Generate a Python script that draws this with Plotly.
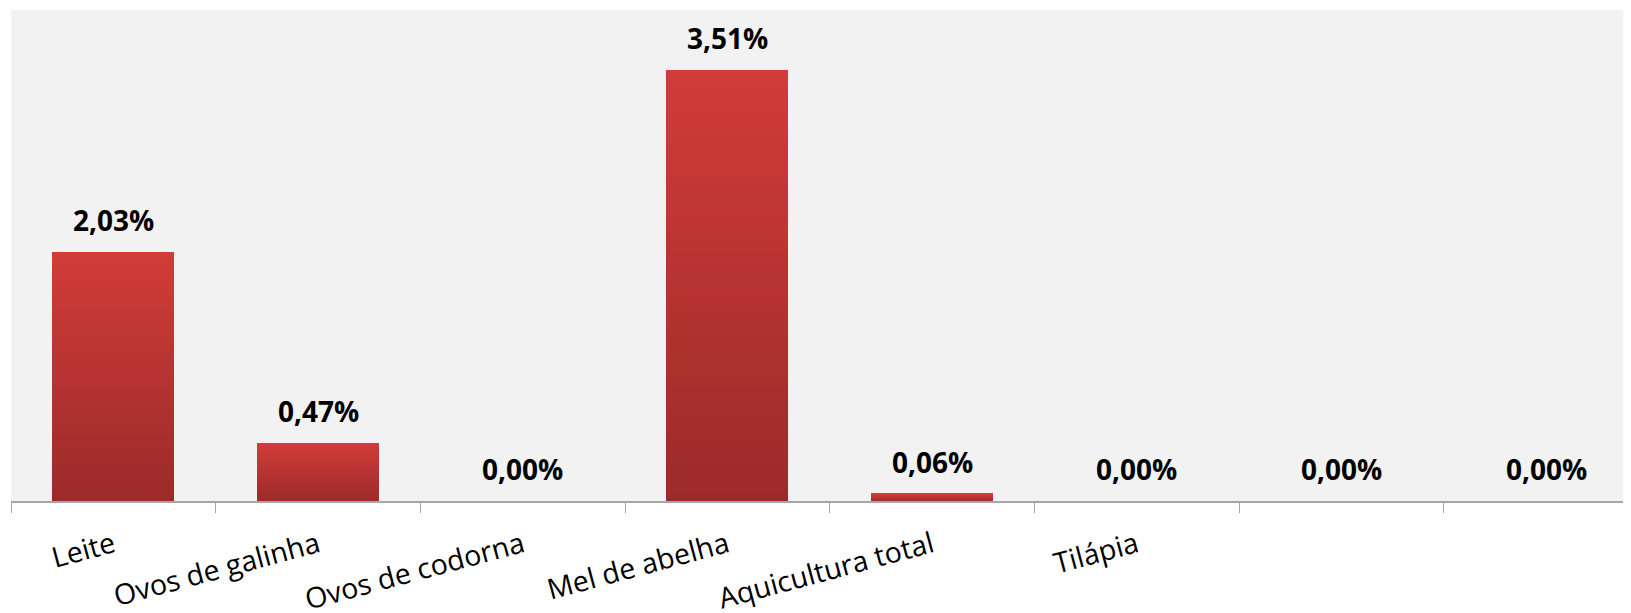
import plotly.graph_objects as go

# ---- data ----
categories = ["Leite", "Ovos de galinha", "Ovos de codorna", "Mel de abelha",
              "Aquicultura total", "Tilápia", "", ""]
values = [2.03, 0.47, 0.00, 3.51, 0.06, 0.00, 0.00, 0.00]
value_labels = ["2,03%", "0,47%", "0,00%", "3,51%", "0,06%", "0,00%", "0,00%", "0,00%"]

# ---- style ----
TOP = (209, 60, 56)
BOTTOM = (155, 43, 42)
N_STEPS = 60
FONT = "Open Sans"

x_pos = list(range(len(categories)))

fig = go.Figure()
for k in range(N_STEPS):
    t = k / (N_STEPS - 1)  # 0 bottom -> 1 top
    r = round(BOTTOM[0] + (TOP[0] - BOTTOM[0]) * t)
    g = round(BOTTOM[1] + (TOP[1] - BOTTOM[1]) * t)
    b = round(BOTTOM[2] + (TOP[2] - BOTTOM[2]) * t)
    fig.add_trace(go.Bar(
        x=x_pos,
        y=[v / N_STEPS for v in values],
        width=0.596,
        marker=dict(color=f"rgb({r},{g},{b})", line=dict(width=0)),
        showlegend=False,
        hoverinfo="skip",
    ))

for xi, v, lab in zip(x_pos, values, value_labels):
    fig.add_annotation(
        x=xi, y=v, text=f"<b>{lab}</b>", showarrow=False,
        xanchor="center", yanchor="middle", yshift=32,
        font=dict(family=FONT, size=28, color="black"),
    )

fig.update_layout(
    width=1623, height=605,
    barmode="stack", bargap=0,
    template="none",
    paper_bgcolor="white",
    plot_bgcolor="#f2f2f2",
    margin=dict(l=3, r=0, t=2, b=112, autoexpand=False),
    showlegend=False,
    xaxis=dict(
        range=[-0.5, 7.415],
        tickmode="array",
        tickvals=x_pos,
        ticktext=categories,
        tickangle=-15,
        ticks="",
        ticklabelstandoff=15,
        showgrid=False,
        zeroline=False,
        showline=True,
        linecolor="#a6a6a6",
        linewidth=1.5,
        tickfont=dict(family=FONT, size=28.5, color="black"),
        automargin=False,
        minor=dict(
            tickmode="array",
            tickvals=[i - 0.5 for i in range(len(categories) + 1)],
            ticks="outside",
            ticklen=10,
            tickwidth=1.3,
            tickcolor="#a6a6a6",
            showgrid=False,
        ),
    ),
    yaxis=dict(
        range=[0, 4.0],
        visible=False,
        showgrid=False,
        zeroline=False,
        automargin=False,
    ),
)

fig.write_html("out.html")
